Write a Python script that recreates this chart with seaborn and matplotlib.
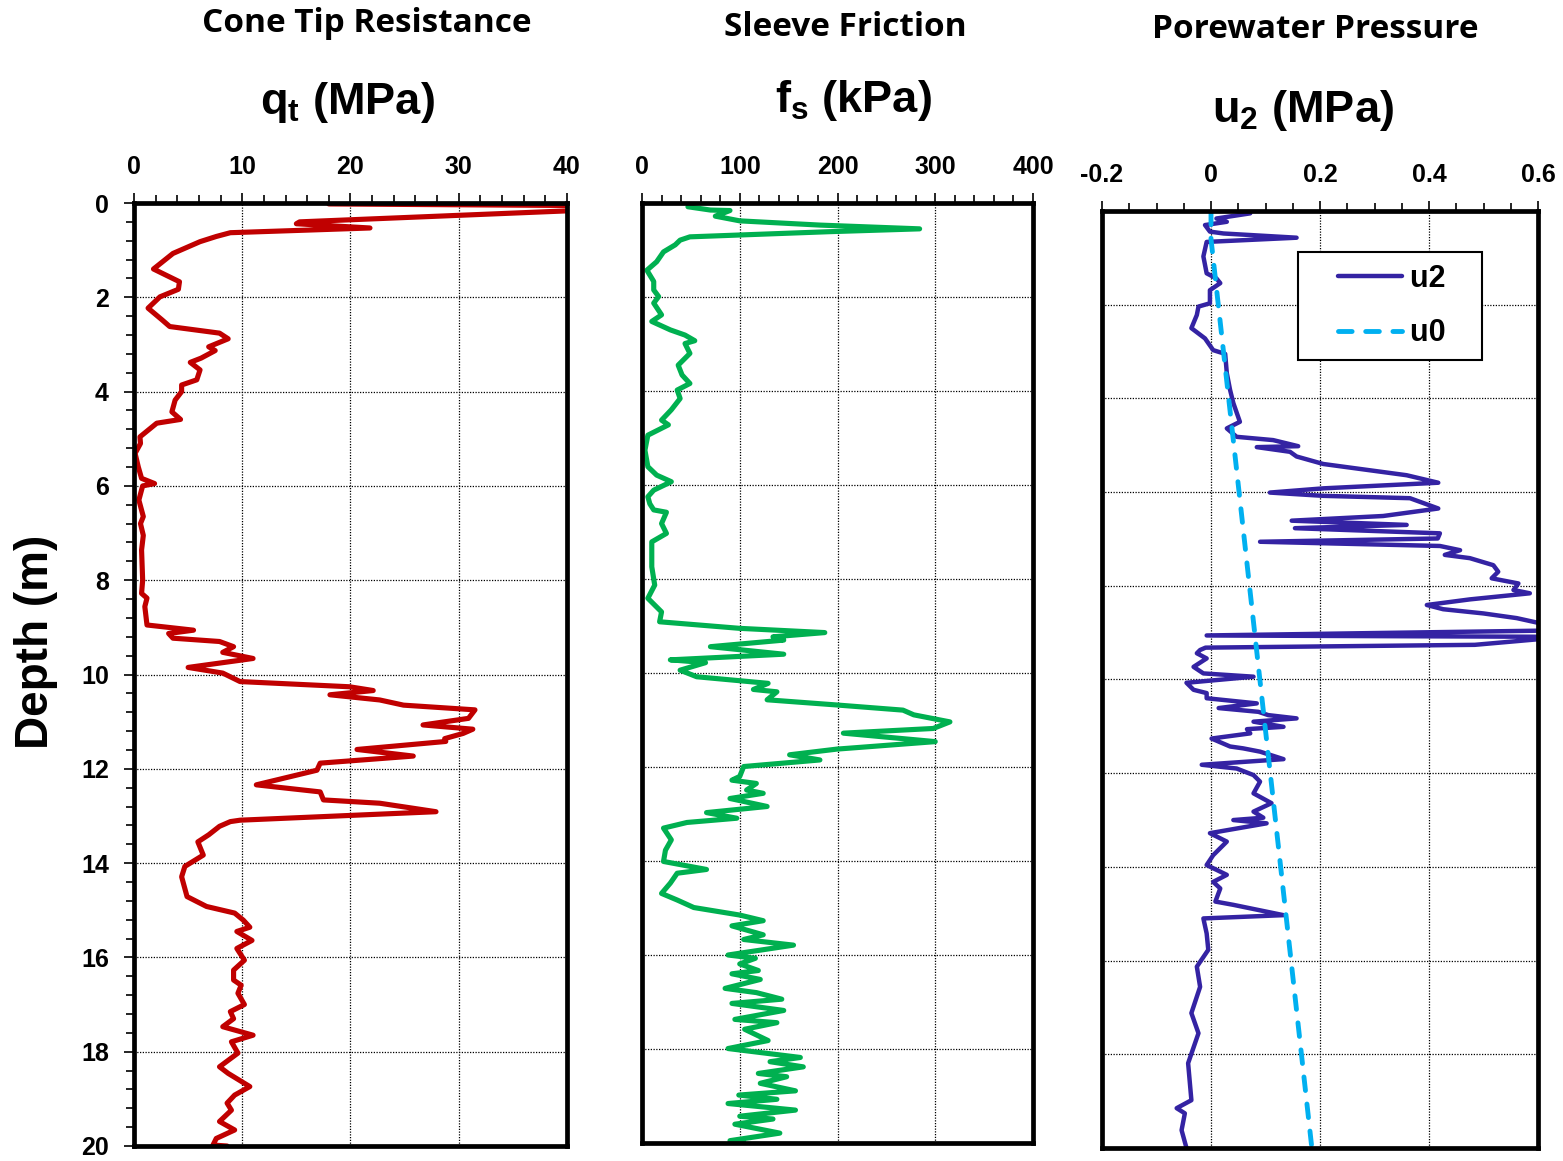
import matplotlib
matplotlib.use("Agg")
import matplotlib.pyplot as plt
import seaborn as sns
from matplotlib.lines import Line2D
from matplotlib.legend_handler import HandlerLine2D
from matplotlib.ticker import MultipleLocator

# ---------------- data ----------------
qt_depth = [
    0.02, 0.06, 0.12, 0.40, 0.44, 0.53, 0.63, 0.71, 0.82, 1.07,
    1.40, 1.67, 1.83, 1.99, 2.23, 2.48, 2.62, 2.76, 2.88, 3.05,
    3.13, 3.29, 3.38, 3.54, 3.75, 3.86, 4.00, 4.18, 4.43, 4.59,
    4.67, 4.96, 5.10, 5.31, 5.60, 5.84, 5.95, 6.00, 6.30, 6.65,
    6.80, 7.05, 7.36, 8.00, 8.28, 8.38, 8.56, 8.95, 9.06, 9.13,
    9.23, 9.30, 9.41, 9.53, 9.66, 9.85, 9.97, 10.15, 10.26, 10.34,
    10.43, 10.54, 10.65, 10.75, 10.93, 11.07, 11.16, 11.25, 11.36, 11.42,
    11.59, 11.73, 11.88, 12.03, 12.34, 12.49, 12.66, 12.73, 12.91, 13.09,
    13.12, 13.22, 13.40, 13.55, 13.83, 14.07, 14.29, 14.71, 14.92, 15.06,
    15.21, 15.36, 15.45, 15.64, 15.81, 16.06, 16.27, 16.48, 16.59, 16.76,
    17.00, 17.15, 17.30, 17.47, 17.65, 17.79, 18.03, 18.32, 18.46, 18.74,
    18.92, 19.09, 19.24, 19.48, 19.66, 19.84, 19.98, 20.00,
]
qt = [
    18.0, 45.0, 45.0, 15.3, 15.0, 21.8, 8.9, 7.6, 6.1, 3.6,
    1.8, 4.2, 4.1, 2.4, 1.3, 2.6, 3.3, 7.9, 8.7, 6.9,
    7.5, 6.2, 5.2, 6.1, 5.8, 4.4, 4.4, 3.8, 3.5, 4.3,
    2.1, 0.55, 0.6, 0.1, 0.4, 0.7, 1.9, 0.8, 0.45, 0.86,
    0.6, 0.86, 0.7, 0.8, 0.7, 1.2, 1.0, 1.2, 5.5, 3.2,
    3.6, 7.9, 9.2, 8.2, 11.0, 5.0, 8.2, 9.8, 19.9, 22.1,
    18.1, 22.7, 24.9, 31.5, 30.9, 26.7, 31.3, 30.4, 28.7, 28.8,
    20.6, 25.8, 17.2, 16.9, 11.3, 17.2, 17.5, 22.7, 27.9, 9.8,
    8.9, 7.9, 6.9, 5.9, 6.4, 4.7, 4.4, 4.9, 6.7, 9.3,
    10.1, 10.7, 9.5, 10.9, 9.5, 10.2, 9.2, 9.2, 9.9, 9.6,
    10.2, 8.9, 9.2, 8.2, 11.0, 9.0, 9.6, 7.9, 8.7, 10.7,
    9.3, 8.6, 9.0, 7.9, 9.3, 7.6, 7.3, 8.6,
]

fs_depth = [
    0.08, 0.15, 0.16, 0.28, 0.38, 0.47, 0.55, 0.61, 0.72, 0.79,
    0.89, 1.04, 1.25, 1.43, 1.67, 1.85, 1.99, 2.13, 2.38, 2.52,
    2.70, 2.81, 2.93, 2.99, 3.20, 3.45, 3.66, 3.84, 3.98, 4.16,
    4.40, 4.62, 4.72, 4.94, 5.26, 5.61, 5.79, 5.93, 6.11, 6.25,
    6.40, 6.53, 6.58, 6.82, 7.03, 7.21, 7.74, 8.13, 8.41, 8.70,
    8.91, 9.05, 9.14, 9.23, 9.30, 9.44, 9.60, 9.72, 9.78, 9.94,
    10.08, 10.22, 10.35, 10.40, 10.57, 10.68, 10.79, 10.89, 11.04, 11.18,
    11.28, 11.46, 11.62, 11.74, 11.85, 11.99, 12.20, 12.28, 12.35, 12.49,
    12.56, 12.67, 12.84, 12.97, 13.09, 13.18, 13.30, 13.55, 13.77, 14.01,
    14.18, 14.26, 14.47, 14.69, 14.83, 14.99,
    15.15, 15.27, 15.38, 15.57, 15.67, 15.79, 16.00, 16.07, 16.19, 16.33,
    16.40, 16.52, 16.71, 16.80, 16.94, 17.03, 17.18, 17.37, 17.44, 17.58,
    17.82, 17.99, 18.18, 18.27, 18.38, 18.52, 18.59, 18.73, 18.89, 18.98,
    19.07, 19.16, 19.30, 19.43, 19.49, 19.60, 19.79, 19.95, 19.99,
]
fs = [
    47, 70, 90, 75, 100, 182, 284, 192, 49, 39,
    34, 22, 15, 5, 12, 12, 17, 12, 20, 10,
    29, 44, 54, 44, 49, 37, 41, 49, 36, 39,
    30, 20, 27, 6, 3, 6, 15, 30, 12, 6,
    8, 12, 25, 20, 25, 10, 10, 13, 6, 20,
    18, 100, 187, 134, 145, 70, 145, 29, 65, 39,
    56, 129, 114, 138, 128, 199, 267, 278, 315, 298,
    206, 300, 199, 151, 182, 104, 100, 92, 117, 107,
    124, 90, 128, 66, 97, 46, 22, 30, 24, 22,
    66, 36, 29, 20, 36, 53,
    100, 124, 92, 124, 104, 155, 88, 116, 100, 119,
    92, 121, 85, 117, 143, 92, 145, 95, 138, 105,
    129, 88, 162, 131, 165, 119, 148, 121, 157, 99,
    138, 88, 157, 100, 134, 95, 141, 90, 104,
]

u2_depth = [
    0.05, 0.16, 0.23, 0.30, 0.44, 0.48, 0.57, 0.66, 0.97, 1.33,
    1.44, 1.54, 1.69, 1.97, 2.04, 2.22, 2.50, 2.72, 2.97, 3.05,
    3.46, 3.82, 4.10, 4.50, 4.64, 4.82, 4.89, 5.02, 5.04, 5.14,
    5.24, 5.40, 5.64, 5.80, 5.92, 6.01, 6.08, 6.13, 6.35, 6.51,
    6.61, 6.70, 6.77, 6.88, 6.99, 7.06, 7.15, 7.24, 7.34, 7.41,
    7.56, 7.70, 7.84, 7.95, 8.09, 8.16, 8.29, 8.41, 8.50, 8.59,
    8.69, 8.79, 8.95, 9.06, 9.09, 9.26, 9.32, 9.37, 9.44, 9.55,
    9.73, 9.87, 9.94, 10.07, 10.22, 10.29, 10.40, 10.51, 10.61, 10.69,
    10.76, 10.83, 10.90, 11.01, 11.06, 11.15, 11.26, 11.43, 11.47, 11.54,
    11.70, 11.82, 11.90, 12.04, 12.18, 12.43, 12.64, 12.82, 12.95, 13.00,
    13.07, 13.28, 13.46, 13.75, 13.96, 14.17, 14.32, 14.46, 14.74, 14.81,
    15.03, 15.10, 15.42, 15.77, 16.13, 16.56, 17.12, 17.55, 18.19, 18.98,
    19.15, 19.26, 19.62, 20.00,
]
u2 = [
    0.072, 0.010, 0.029, -0.011, -0.002, 0.023, 0.157, -0.008, -0.014, -0.008,
    0.010, 0.017, -0.002, -0.002, -0.023, -0.026, -0.036, -0.011, 0.004, 0.026,
    0.029, 0.035, 0.041, 0.053, 0.029, 0.047, 0.114, 0.160, 0.084, 0.145,
    0.157, 0.206, 0.359, 0.417, 0.206, 0.108, 0.206, 0.365, 0.417, 0.316,
    0.148, 0.359, 0.154, 0.420, 0.416, 0.090, 0.420, 0.457, 0.429, 0.475,
    0.518, 0.527, 0.515, 0.564, 0.555, 0.585, 0.475, 0.396, 0.426, 0.500,
    0.561, 0.600, 0.650, -0.008, 0.650, 0.484, -0.010, -0.020, -0.026, -0.008,
    -0.032, -0.014, 0.078, -0.045, -0.032, -0.008, -0.008, 0.084, 0.014, 0.087,
    0.105, 0.157, 0.078, 0.133, 0.066, 0.072, 0.001, 0.035, 0.059, 0.090,
    0.133, -0.017, 0.047, 0.078, 0.090, 0.078, 0.111, 0.078, 0.096, 0.041,
    0.102, -0.002, 0.029, 0.004, -0.008, 0.029, 0.004, 0.017, 0.008, 0.041,
    0.133, -0.014, -0.008, -0.005, -0.026, -0.020, -0.036, -0.023, -0.042, -0.036,
    -0.063, -0.048, -0.054, -0.045,
]

u0_depth = [0.0, 0.6, 20.0]
u0 = [0.0, 0.0, 0.185]

qt_ticks = [0, 10, 20, 30, 40]
fs_ticks = [0, 100, 200, 300, 400]
u_ticks = [-0.2, 0, 0.2, 0.4, 0.6]
u_tick_labels = ["-0.2", "0", "0.2", "0.4", "0.6"]
depth_ticks = [0, 2, 4, 6, 8, 10, 12, 14, 16, 18, 20]

titles = ["Cone Tip Resistance", "Sleeve Friction", "Porewater Pressure"]
units = ["q$_{\\mathrm{t}}$ (MPa)", "f$_{\\mathrm{s}}$ (kPa)", "u$_{\\mathrm{2}}$ (MPa)"]
legend_labels = ["u2", "u0"]

# ---------------- style ----------------
sns.set_style("white")
plt.rcParams["font.family"] = ["Liberation Sans", "DejaVu Sans"]
plt.rcParams["font.weight"] = "bold"
plt.rcParams["text.color"] = "black"
plt.rcParams["axes.labelcolor"] = "black"
plt.rcParams["xtick.color"] = "black"
plt.rcParams["ytick.color"] = "black"
plt.rcParams["mathtext.fontset"] = "custom"
plt.rcParams["mathtext.rm"] = "Liberation Sans:bold"
plt.rcParams["mathtext.it"] = "Liberation Sans:bold"
plt.rcParams["mathtext.bf"] = "Liberation Sans:bold"

RED = "#C00000"
GREEN = "#00B050"
PURPLE = "#3423A3"
CYAN = "#00B0F0"

fig = plt.figure(figsize=(15.63, 11.61), dpi=100)
ax1 = fig.add_axes([0.08573, 0.01292, 0.27703, 0.81223])
ax2 = fig.add_axes([0.41075, 0.01550, 0.25016, 0.80965])
ax3 = fig.add_axes([0.70506, 0.01120, 0.27895, 0.80706])

line_kw = dict(sort=False, estimator=None, solid_joinstyle="round",
               solid_capstyle="round")
sns.lineplot(x=qt, y=qt_depth, ax=ax1, color=RED, linewidth=3.7, **line_kw)
sns.lineplot(x=fs, y=fs_depth, ax=ax2, color=GREEN, linewidth=3.7, **line_kw)
sns.lineplot(x=u2, y=u2_depth, ax=ax3, color=PURPLE, linewidth=3.2, **line_kw)
sns.lineplot(x=u0, y=u0_depth, ax=ax3, color=CYAN, linewidth=3.5, sort=False,
             estimator=None, linestyle=(0, (2.8, 2.8)), dash_capstyle="round")

TICK_SIZE = 18

for ax, xlim, xticks, minor in [
    (ax1, (0, 40), qt_ticks, 2),
    (ax2, (0, 400), fs_ticks, 20),
    (ax3, (-0.2, 0.6), u_ticks, 0.05),
]:
    ax.set_xlim(*xlim)
    ax.set_ylim(20, 0)
    ax.set_xticks(xticks)
    ax.xaxis.set_minor_locator(MultipleLocator(minor))
    ax.set_yticks(depth_ticks)
    ax.xaxis.tick_top()
    ax.tick_params(axis="x", which="both", direction="out", top=True,
                   bottom=False, labeltop=True, labelbottom=False,
                   width=1.2, color="black", labelcolor="black")
    ax.tick_params(axis="x", which="major", length=7, pad=10,
                   labelsize=TICK_SIZE)
    ax.tick_params(axis="x", which="minor", length=6)
    ax.set_xlabel("")
    ax.set_ylabel("")
    ax.set_axisbelow(True)
    ax.grid(True, which="major", color="black", linestyle=(0, (1, 1.2)),
            linewidth=0.9)
    for sp in ax.spines.values():
        sp.set_visible(True)
        sp.set_color("black")
        sp.set_linewidth(3.4)

ax3.set_xticklabels(u_tick_labels)
for ax in (ax1, ax2, ax3):
    for lab in ax.get_xticklabels():
        lab.set_fontweight("bold")
        lab.set_fontsize(TICK_SIZE)
        lab.set_color("black")

# y axis: only first panel has ticks and labels
ax1.yaxis.set_minor_locator(MultipleLocator(0.4))
ax1.tick_params(axis="y", which="both", direction="out", left=True,
                labelleft=True, width=1.2, color="black", labelcolor="black")
ax1.tick_params(axis="y", which="major", length=7, pad=11,
                labelsize=TICK_SIZE)
ax1.tick_params(axis="y", which="minor", length=6)
for lab in ax1.get_yticklabels():
    lab.set_fontweight("bold")
for ax in (ax2, ax3):
    ax.tick_params(axis="y", which="both", left=False, right=False,
                   labelleft=False)

# titles and unit labels
title_x = [367, 845, 1315]
title_y = [23, 28, 29]
unit_x = [347, 853, 1303]
unit_y = [114, 112, 122]
for t, u, tx, ty, ux, uy in zip(titles, units, title_x, title_y, unit_x, unit_y):
    fig.text(tx / 1563, 1 - ty / 1161, t, ha="center", va="center",
             family="Open Sans", weight="bold", size=24, color="black")
    fig.text(ux / 1563, 1 - uy / 1161, u, ha="center", va="baseline",
             family="Liberation Sans", weight="bold", size=32.5, color="black")

fig.text(36 / 1563, 1 - 642 / 1161, "Depth (m)", rotation=90, ha="center",
         va="center", family="Liberation Sans", weight="bold", size=33,
         color="black")

# legend
LEG_SIZE = 22
handles = [
    Line2D([], [], color=PURPLE, linewidth=3.2, solid_capstyle="round"),
    Line2D([], [], color=CYAN, linewidth=3.5, linestyle=(0, (2.8, 2.8)),
           dash_capstyle="round"),
]
leg = ax3.legend(handles, [lab + "   " for lab in legend_labels],
                 loc="upper left",
                 bbox_to_anchor=(0.45, 0.956), borderaxespad=0,
                 prop=dict(family="Liberation Sans", weight="bold",
                           size=LEG_SIZE),
                 frameon=True, fancybox=False, framealpha=1,
                 edgecolor="black", borderpad=0.38, handlelength=3.02,
                 handletextpad=0.25, labelspacing=0.8,
                 handler_map={Line2D: HandlerLine2D(xpad=0.93)})
leg.get_frame().set_linewidth(1.5)
leg.get_frame().set_edgecolor("black")
for txt in leg.get_texts():
    txt.set_color("black")

fig.savefig("out.png", dpi=100)
